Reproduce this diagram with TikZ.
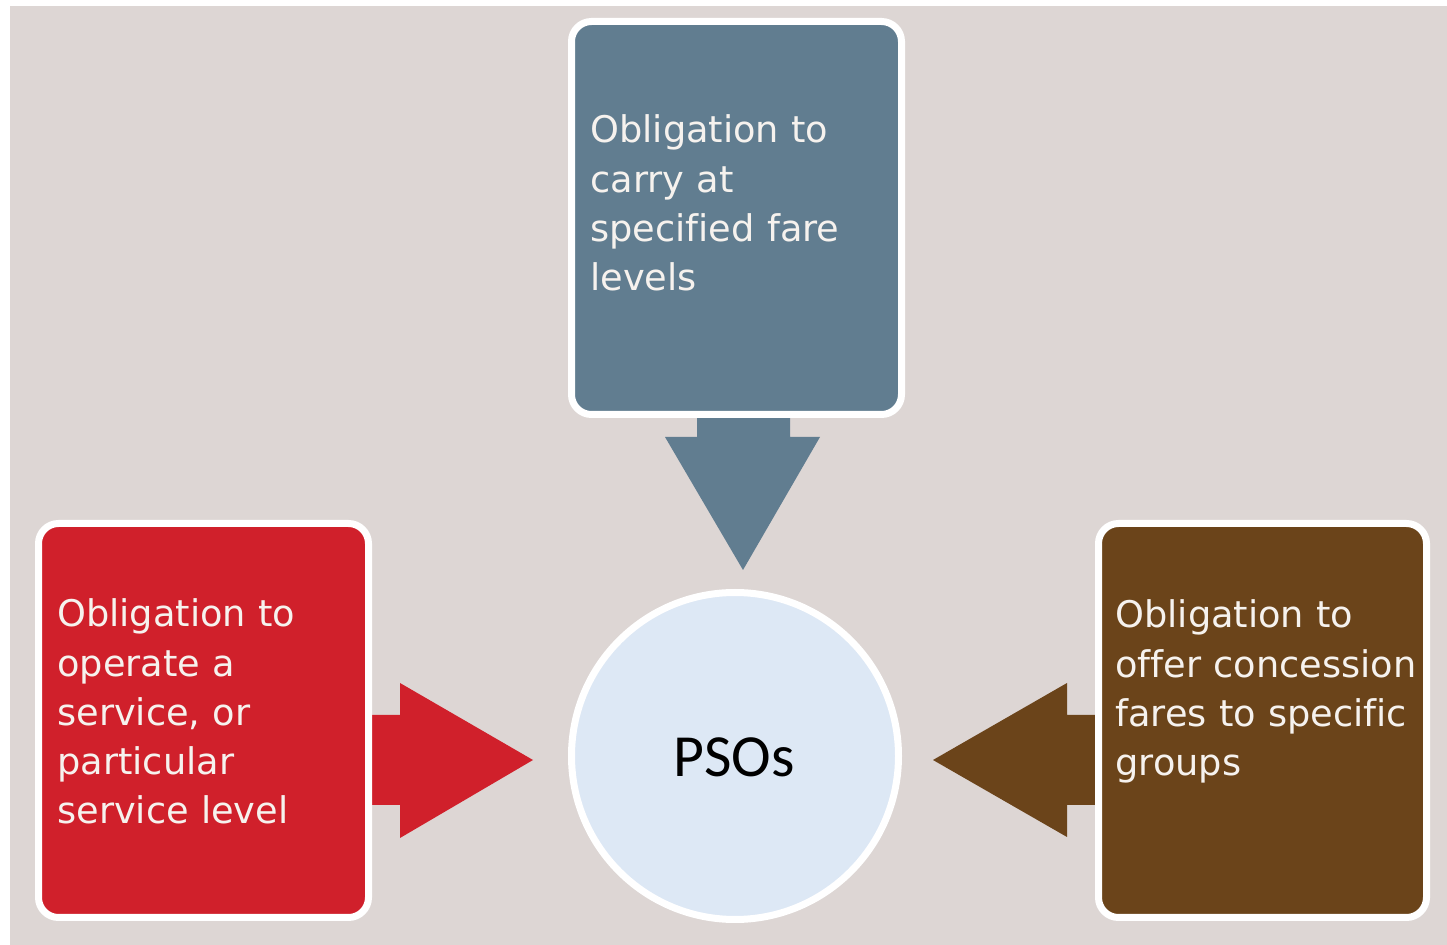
\documentclass[tikz,border=0pt]{standalone}
\usepackage{fontspec}
\setmainfont[Ligatures=NoCommon]{DejaVu Sans}
\newfontfamily\psofont{Carlito}
\usepackage{xcolor}
\definecolor{psobg}{RGB}{221,214,212}
\definecolor{psoblue}{RGB}{97,125,144}
\definecolor{psored}{RGB}{208,32,43}
\definecolor{psobrown}{RGB}{107,68,26}
\definecolor{psocircle}{RGB}{221,232,245}
\definecolor{psotext}{RGB}{246,242,238}
\usetikzlibrary{positioning,calc}

\begin{document}
\begin{tikzpicture}[
  duty/.style={draw=white,line width=0.14cm,rounded corners=0.4cm,
    minimum width=6.6cm,minimum height=7.88cm},
  dutytext/.style={anchor=base west,inner sep=0pt,text=psotext,align=left,
    text width=7cm,font=\fontsize{20.9}{27.9}\selectfont}
]
  \useasboundingbox (0,0) rectangle (28.94,18.9);
  \fill[white] (0,0) rectangle (28.94,18.9);
  \fill[psobg] (0.2,0) rectangle (28.94,18.78);

  % Arrows
  \fill[psoblue] (13.94,10.8) -- (13.94,10.16) -- (13.3,10.16) -- (14.86,7.5)
    -- (16.4,10.16) -- (15.8,10.16) -- (15.8,10.8) -- cycle;
  \fill[psored] (7.3,4.6) -- (8.0,4.6) -- (8.0,5.24) -- (10.66,3.7)
    -- (8.0,2.14) -- (8.0,2.8) -- (7.3,2.8) -- cycle;
  \fill[psobrown] (21.95,4.6) -- (21.34,4.6) -- (21.34,5.24) -- (18.66,3.7)
    -- (21.34,2.16) -- (21.34,2.8) -- (21.95,2.8) -- cycle;

  % Boxes
  \node[duty,fill=psoblue,minimum height=7.86cm] (carry) at (14.73,14.54) {};
  \node[dutytext] (carrytxt) at (11.8,16.04) {Obligation to\\carry at\\specified fare\\levels};

  \node[duty,fill=psored] (operate) at (4.07,4.49) {};
  \node[dutytext] (operatetxt) at (1.14,6.36) {Obligation to\\operate a\\service, or\\particular\\service level};

  \node[duty,fill=psobrown,minimum width=6.56cm] (concession) at (25.25,4.49) {};
  \node[dutytext] (concessiontxt) at (22.3,6.34) {Obligation to\\offer concession\\fares to specific\\groups};

  % Centre
  \node[circle,draw=white,line width=0.14cm,fill=psocircle,minimum size=6.54cm] (pso) at (14.7,3.78) {};
  \node[anchor=base,inner sep=0pt,font=\psofont\fontsize{34}{40}\selectfont] (psotxt) at (14.68,3.36) {PSOs};
\end{tikzpicture}
\end{document}
